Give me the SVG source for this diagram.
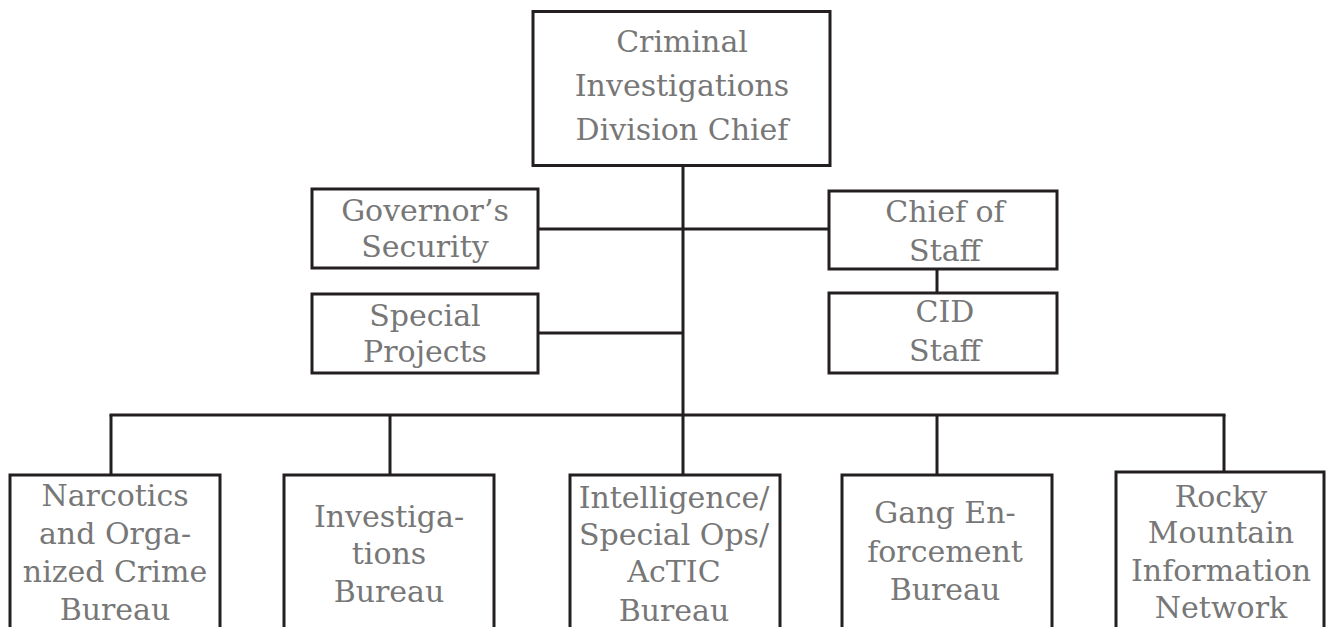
<svg xmlns="http://www.w3.org/2000/svg" width="1326" height="627" viewBox="0 0 1326 627">
<style>
.box{fill:#fff;stroke:#231f20;stroke-width:3}
.ln{stroke:#231f20;stroke-width:3;fill:none}
.t{font-family:"DejaVu Serif","Liberation Serif",serif;font-size:30px;fill:#777;text-anchor:middle}
</style>
<rect width="1326" height="627" fill="#fff"/>
<g id="connectors">
<line class="ln" x1="683" y1="166" x2="683" y2="415"/>
<line class="ln" x1="538" y1="229" x2="829" y2="229"/>
<line class="ln" x1="538" y1="333" x2="683" y2="333"/>
<line class="ln" x1="937" y1="269" x2="937" y2="293"/>
<line class="ln" x1="109.5" y1="415" x2="1225.5" y2="415"/>
<line class="ln" x1="111" y1="415" x2="111" y2="475"/>
<line class="ln" x1="390" y1="415" x2="390" y2="475"/>
<line class="ln" x1="683" y1="415" x2="683" y2="475"/>
<line class="ln" x1="937" y1="415" x2="937" y2="475"/>
<line class="ln" x1="1224" y1="415" x2="1224" y2="472"/>
</g>
<g id="chief">
<rect class="box" x="533" y="11.5" width="297" height="154"/>
<text class="t" x="682" y="52">Criminal</text>
<text class="t" x="682" y="96">Investigations</text>
<text class="t" x="682" y="140">Division Chief</text>
</g>
<g id="governor">
<rect class="box" x="312" y="189" width="226" height="79"/>
<text class="t" x="425" y="221">Governor’s</text>
<text class="t" x="425" y="257">Security</text>
</g>
<g id="special">
<rect class="box" x="312" y="294" width="226" height="79"/>
<text class="t" x="425" y="326">Special</text>
<text class="t" x="425" y="362">Projects</text>
</g>
<g id="chiefofstaff">
<rect class="box" x="829" y="191" width="228" height="78"/>
<text class="t" x="945" y="222">Chief of</text>
<text class="t" x="945" y="261">Staff</text>
</g>
<g id="cidstaff">
<rect class="box" x="829" y="293" width="228" height="80"/>
<text class="t" x="945" y="322">CID</text>
<text class="t" x="945" y="361">Staff</text>
</g>
<g id="narcotics">
<rect class="box" x="10" y="475" width="210" height="170"/>
<text class="t" x="115" y="506">Narcotics</text>
<text class="t" x="115" y="544">and Orga-</text>
<text class="t" x="115" y="582">nized Crime</text>
<text class="t" x="115" y="620">Bureau</text>
</g>
<g id="investigations">
<rect class="box" x="284" y="475" width="210" height="170"/>
<text class="t" x="389" y="527">Investiga-</text>
<text class="t" x="389" y="564">tions</text>
<text class="t" x="389" y="602">Bureau</text>
</g>
<g id="intelligence">
<rect class="box" x="570" y="475" width="210" height="170"/>
<text class="t" x="674" y="508">Intelligence/</text>
<text class="t" x="674" y="545">Special Ops/</text>
<text class="t" x="674" y="582">AcTIC</text>
<text class="t" x="674" y="621">Bureau</text>
</g>
<g id="gang">
<rect class="box" x="842" y="475" width="210" height="170"/>
<text class="t" x="945" y="523">Gang En-</text>
<text class="t" x="945" y="562">forcement</text>
<text class="t" x="945" y="600">Bureau</text>
</g>
<g id="rocky">
<rect class="box" x="1116" y="472" width="208" height="173"/>
<text class="t" x="1221" y="507">Rocky</text>
<text class="t" x="1221" y="543">Mountain</text>
<text class="t" x="1221" y="581">Information</text>
<text class="t" x="1221" y="618">Network</text>
</g>
</svg>
